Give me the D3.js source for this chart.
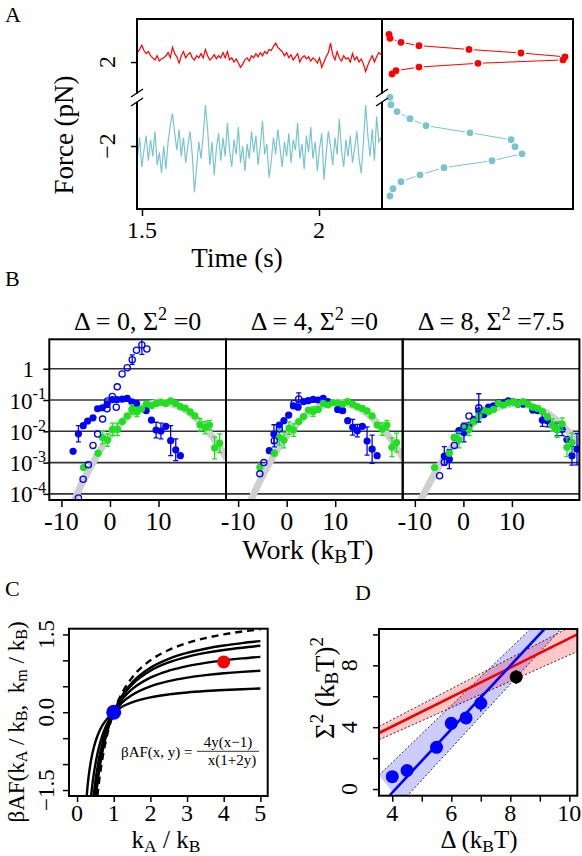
<!DOCTYPE html>
<html>
<head>
<meta charset="utf-8">
<script src="https://d3js.org/d3.v7.min.js"></script>
<style>
  body { margin: 0; background: #fff; }
  svg text { font-family: "Liberation Serif", "DejaVu Serif", serif; fill: #000; white-space: pre; }
</style>
</head>
<body>
<svg width="582" height="856"></svg>
<script>
// ---------------- panel A: force traces ----------------
var traceStart = 1.487, traceStep = 0.0062;
var redTrace = [
  2.45, 2.6, 2.8, 2.55, 2.4, 2.5, 2.3, 2.2, 2.1, 2.3,
  2.05, 2.15, 2.2, 2.3, 2.45, 2.2, 2.7, 2.4, 2.25, 1.95,
  2.3, 2.5, 2.2, 2.35, 2.45, 2.2, 2.1, 2.3, 2.2, 2.4,
  2.2, 2.6, 2.3, 2.1, 2.2, 2.35, 2.15, 2.3, 2.2, 2.45,
  2.2, 2.5, 2.1, 2.2, 2.0, 2.15, 1.95, 1.75, 1.9, 2.1,
  2.2, 2.05, 2.3, 2.2, 2.4, 2.25, 2.45, 2.3, 2.5, 2.4,
  2.6, 2.55, 2.75, 2.9, 2.7, 2.6, 2.5, 2.3, 2.45, 2.2,
  2.35, 2.1, 2.25, 2.4, 2.0, 2.2, 2.3, 2.15, 2.25, 2.05,
  2.2, 2.1, 1.95, 2.2, 1.75, 2.0, 2.25, 2.45, 2.9, 2.35,
  2.1, 2.5, 2.2, 2.05, 2.3, 2.15, 2.2, 2.0, 2.4, 2.1,
  2.25, 2.0, 2.15, 1.9, 1.55, 1.85, 2.1, 2.3, 2.0, 2.25, 2.45, 2.35
];
var cyanTrace = [
  -2.6, -1.6, -3.0, -2.2, -1.5, -2.7, -1.7, -2.5, -1.3, -2.9,
  -2.3, -3.3, -2.0, -3.1, -1.8, -1.0, -0.45, -1.4, -2.2, -1.2,
  -2.5, -1.6, -2.8, -2.0, -1.3, -2.4, -4.2, -3.0, -1.8, -2.6,
  -1.5, -0.05, -1.2, -2.9, -1.8, -3.4, -2.1, -1.4, -2.7, -1.6,
  -2.5, -0.9, -2.2, -3.0, -1.7, -2.4, -1.1, -2.8, -2.0, -3.2,
  -1.9, -2.6, -1.3, -2.3, -1.5, -2.9, -2.0, -0.8, -2.4, -1.9,
  -3.5, -2.7, -1.6, -2.4, -1.2, -2.1, -3.0, -1.8, -2.5, -1.4,
  -2.8, -1.7, -2.2, -0.9, -2.6, -1.9, -3.1, -1.5, -2.3, -1.1,
  -2.6, -1.8, -3.2, -2.1, -1.4, -3.6, -2.4, -1.3, -2.0, -2.9,
  -1.6, -2.4, -0.7, -2.2, -3.0, -1.7, -2.5, -1.5, -2.8, -2.1,
  -1.3, -2.6, -3.3, -1.8, -0.05, -1.5, -2.5, -1.2, -2.7, -0.6, -1.8, -1.6
];
// histograms (force bin, count)
var redBins = [3.32, 3.13, 2.94, 2.78, 2.60, 2.43, 2.25, 2.10, 1.94, 1.76, 1.59, 1.43];
var redCounts = [6, 7, 18, 36, 86, 138, 182, 180, 95, 36, 13, 9];
var cyanBins = [0.32, -0.03, -0.36, -0.70, -1.03, -1.37, -1.70, -2.03, -2.37, -2.70, -3.03, -3.37, -3.70, -4.03, -4.38];
var cyanCounts = [7, 8, 14, 27, 43, 87, 128, 132, 139, 109, 61, 37, 18, 10, 7];
var forceTicks = [2, -2], timeTicks = [1.5, 2];

// ---------------- panel B: work distributions [W, log10 P, err] ----------------
var bTitles = [["0", "0"], ["4", "0"], ["8", "7.5"]];
var blueFilled0 = [[-7.6,-2.64,0],[-6.5,-2.08,0.26],[-5.5,-1.82,0],[-4.6,-1.67,0],[-3.5,-1.57,0],[-2.55,-1.28,0],
  [-1.58,-1.25,0],[-0.6,-1.14,0],[0.47,-0.99,0],[1.44,-0.99,0],[2.5,-0.97,0],[3.55,-0.95,0],[4.5,-1.06,0],
  [5.46,-1.11,0],[7.45,-1.34,0],[8.54,-1.64,0],[9.5,-1.96,0.25],[10.5,-1.99,0.25],[11.5,-1.84,0],
  [12.5,-2.3,0.48],[13.55,-2.59,0.35],[14.5,-2.78,0]];
var blueOpen0 = [[-6.5,-4.13,0],[-5.54,-3.53,0],[-4.46,-3.07,0],[-3.5,-2.45,0],[-2.55,-2.09,0],[-1.52,-1.61,0],
  [-0.6,-1.28,0],[-0.5,-1.03,0],[0.47,-0.89,0],[1.3,-1.23,0],[1.5,-0.58,0],[2.5,-0.17,0],[3.55,0.03,0],
  [4.58,0.29,0.15],[5.46,0.59,0],[6.57,0.76,0.3],[7.6,0.63,0]];
var green0 = [[-5.48,-3.16,0],[-2.46,-2.70,0],[-1.52,-2.20,0.2],[-0.49,-2.28,0.2],[0.53,-1.94,0.2],[1.56,-1.94,0.2],
  [2.53,-1.69,0],[3.55,-1.51,0],[4.5,-1.30,0.15],[5.54,-1.38,0.15],[6.5,-1.29,0],[7.5,-1.12,0],[8.54,-1.18,0],
  [9.57,-1.11,0],[10.5,-1.07,0],[11.5,-1.11,0],[12.5,-1.03,0],[13.55,-1.11,0],[14.5,-1.21,0],[15.5,-1.26,0],
  [16.55,-1.38,0],[17.5,-1.51,0],[18.54,-1.79,0.2],[19.57,-1.88,0.2],[20.5,-1.80,0.15],[21.56,-2.53,0.35],
  [22.6,-2.38,0.3]];
var blueFilled4 = [[-3.58,-2.62,0],[-2.63,-2.09,0.3],[-1.51,-1.80,0],[-0.56,-1.66,0],[0.41,-1.48,0],[1.39,-1.19,0],
  [2.34,-1.23,0],[3.46,-1.05,0],[4.41,-1.02,0],[5.45,-0.98,0],[6.48,-1.0,0],[7.52,-0.95,0],[8.49,-1.05,0],
  [10.5,-1.30,0],[11.53,-1.34,0],[12.57,-1.66,0],[13.6,-1.87,0.25],[14.55,-1.98,0.2],[15.59,-1.84,0],
  [16.56,-2.31,0.45],[17.6,-2.57,0.45],[18.63,-2.78,0]];
var blueOpen4 = [[-5.53,-3.36,0],[-4.7,-3.0,0],[-2.55,-2.30,0.2],[-1.51,-1.93,0],[1.51,-1.11,0],[2.48,-0.97,0.2]];
var green4 = [[-5.53,-3.15,0],[-2.55,-2.70,0],[-1.51,-2.19,0.25],[-0.56,-2.28,0.25],[0.48,-1.90,0.2],[1.45,-1.96,0.2],
  [2.48,-1.69,0],[3.46,-1.53,0],[4.49,-1.32,0],[5.45,-1.37,0.15],[6.48,-1.30,0],[7.52,-1.11,0],[8.49,-1.16,0],
  [9.52,-1.09,0],[10.5,-1.09,0],[11.53,-1.13,0],[12.57,-1.05,0],[13.6,-1.13,0],[14.55,-1.21,0],[15.59,-1.27,0],
  [16.56,-1.35,0],[17.6,-1.51,0],[18.63,-1.80,0],[19.67,-1.93,0.2],[20.64,-1.80,0.15],[21.68,-2.51,0.3],
  [22.63,-2.36,0.3]];
var blueFilled8 = [[-3.93,-2.79,0.3],[-2.9,-2.89,0.3],[-1.86,-2.19,0],[-0.91,-1.98,0],[0.12,-2.04,0.3],[1.16,-1.80,0],
  [2.13,-1.62,0],[3.17,-1.35,0],[4.2,-1.46,0],[5.18,-1.23,0],[6.21,-1.19,0],[7.25,-1.09,0],[8.2,-1.09,0],
  [9.23,-1.03,0],[10.2,-1.05,0],[11.24,-1.13,0],[12.28,-1.13,0],[14.29,-1.32,0],[15.32,-1.34,0],
  [16.27,-1.64,0.2],[17.31,-1.66,0.2],[18.34,-1.80,0],[19.32,-1.94,0.2],[20.35,-1.94,0.2],[21.33,-2.26,0],
  [22.36,-2.78,0.3],[23.4,-2.57,0.5]];
var blueOpen8 = [[-4.9,-3.42,0],[-3.93,-2.99,0],[-1.86,-2.45,0],[0.12,-1.85,0],[1.16,-1.51,0],[3.17,-1.25,0.45]];
var green8 = [[-5.94,-3.16,0],[-2.9,-2.70,0],[-1.86,-2.19,0],[-0.91,-2.28,0.25],[0.12,-1.87,0],[1.16,-1.94,0.2],
  [2.13,-1.69,0],[3.17,-1.51,0.2],[4.2,-1.32,0],[5.18,-1.37,0],[6.21,-1.30,0],[7.25,-1.11,0],[8.2,-1.16,0],
  [9.23,-1.09,0],[10.27,-1.05,0],[11.24,-1.13,0],[12.28,-1.05,0],[13.31,-1.13,0],[14.29,-1.23,0],[15.32,-1.27,0],
  [16.27,-1.37,0],[17.31,-1.55,0],[18.34,-1.80,0.2],[19.32,-1.94,0.25],[20.35,-1.77,0.2],[21.33,-2.51,0.3],
  [22.36,-2.36,0.3]];
// gaussian guide curves [W, log10 P]
var grayNarrow = [[-9,-4.80],[-6,-3.74],[-3,-2.86],[0,-2.15],[3,-1.62],[6,-1.27],[10.5,-1.07],[15,-1.27],[18,-1.62],[21,-2.15],[24,-2.86]];
var grayWide = [[-10,-4.56],[-6,-3.37],[-2,-2.44],[3,-1.62],[7,-1.245],[11,-1.12],[15,-1.245],[19,-1.62],[23,-2.24],[24,-2.44]];
var workTicks = [-10, 0, 10];
var probTicks = [0, -1, -2, -3, -4];

// ---------------- panel C: beta*A*F curves ----------------
var cX = [0.25, 0.3, 0.35, 0.4, 0.45, 0.5, 0.55, 0.6, 0.7, 0.8, 1, 1.25, 1.5, 2, 2.5, 3, 3.5, 4, 4.5, 5];
var cCurveY02 = [-1.714,-1.333,-1.061,-0.857,-0.698,-0.571,-0.468,-0.381,-0.245,-0.143,0,0.114,0.190,0.286,0.343,0.381,0.408,0.429,0.444,0.457];
var cCurveY05 = [-3,-2.333,-1.857,-1.5,-1.222,-1,-0.818,-0.667,-0.429,-0.25,0,0.2,0.333,0.5,0.6,0.667,0.714,0.75,0.778,0.8];
var cCurveY1 = [-4,-3.111,-2.476,-2,-1.630,-1.333,-1.091,-0.889,-0.571,-0.333,0,0.267,0.444,0.667,0.8,0.889,0.952,1.0,1.037,1.067];
var cCurveY2 = [-4.8,-3.733,-2.971,-2.4,-1.956,-1.6,-1.309,-1.067,-0.686,-0.4,0,0.32,0.533,0.8,0.96,1.067,1.143,1.2,1.244,1.28];
var cCurveY3 = [-5.143,-4,-3.184,-2.571,-2.095,-1.714,-1.403,-1.143,-0.735,-0.429,0,0.343,0.571,0.857,1.029,1.143,1.224,1.286,1.333,1.371];
var cCurveInf = [-6,-4.667,-3.714,-3,-2.444,-2,-1.636,-1.333,-0.857,-0.5,0,0.4,0.667,1.0,1.2,1.333,1.429,1.5,1.556,1.6];
var cBluePoint = [1, 0], cRedPoint = [4, 0.97];
var cXTicks = [0, 1, 2, 3, 4, 5];
var cYTicks = [-1.5, -1, -0.5, 0, 0.5, 1, 1.5];
var cYLabels = {"-1.5": "\u22121.5", "0": "0.0", "1.5": "1.5"};

// ---------------- panel D: Sigma^2 vs Delta ----------------
var dDelta = [4, 4.5, 5.5, 6, 6.5, 7];
var dSigma2 = [0.8, 1.2, 2.7, 4.25, 4.6, 5.55];
var dErr = [0.15, 0.15, 0.15, 0.2, 0.2, 0.55];
var dBlack = [8.2, 7.25, 0.45];
var dRedFit = [[3.55, 3.62], [10.27, 10.0]];
var dRedUpper = [[3.55, 4.05], [10.27, 10.72]];
var dRedLower = [[3.55, 3.18], [10.27, 8.9]];
var dBlueFit = [[3.92, -0.39], [9.3, 10.64]];
var dBlueUpper = [[3.55, 0.9], [9.0, 10.93]];
var dBlueLower = [[4.3, -0.87], [10.0, 10.93]];
var dXTicks = [4, 5, 6, 7, 8, 9, 10], dXLabels = [4, 6, 8, 10];
var dYTicks = [0, 2, 4, 6, 8, 10], dYLabels = [0, 4, 8];

var BLUE = "#0000ff", GREEN = "#1ee01e", RED = "#ff0000", CYAN = "#7ac5cd";
var FONT = '"Liberation Serif", "DejaVu Serif", serif';

var svg = d3.select("svg");

// text with sub/superscript parts
function rich(x, y, size, anchor, parts, rotate) {
  var t = svg.append("text")
    .attr("transform", "translate(" + x + "," + y + ")" + (rotate ? " rotate(-90)" : ""))
    .attr("text-anchor", anchor)
    .style("font-family", FONT)
    .style("font-size", size + "px");
  var shift = 0;
  parts.forEach(function (p) {
    if (typeof p === "string") p = {t: p};
    var target = p.sub ? size * 0.15 : p.sup ? -size * 0.4 : 0;
    t.append("tspan")
      .attr("dy", target - shift)
      .style("font-size", (p.sub || p.sup ? size * 0.7 : size) + "px")
      .text(p.t);
    shift = target;
  });
  return t;
}

function clip(id, x0, y0, x1, y1) {
  svg.append("clipPath").attr("id", id).append("rect")
    .attr("x", x0).attr("y", y0).attr("width", x1 - x0).attr("height", y1 - y0);
  return svg.append("g").attr("clip-path", "url(#" + id + ")");
}

function box(x0, y0, x1, y1) {
  svg.append("rect").attr("x", x0).attr("y", y0).attr("width", x1 - x0).attr("height", y1 - y0)
    .attr("fill", "none").attr("stroke", "#000").attr("stroke-width", 2);
}

function axisAt(axis, tx, ty) {
  svg.append("g").attr("transform", "translate(" + tx + "," + ty + ")")
    .call(axis.tickFormat(""))
    .call(function (g) { g.select(".domain").remove(); })
    .selectAll("line").attr("stroke-width", 1.5);
}

// =============== A ===============
var xTime = d3.scaleLinear().domain([1.4859, 2.178]).range([137, 382]);
var yForce = d3.scaleLinear().domain([-5, 4.05]).range([209, 19]);
var xCount = d3.scaleLinear().domain([0, 190]).range([383, 573]);

var aLeft = clip("clipA", 137, 19, 382, 209);
var traceLine = d3.line()
  .x(function (d, i) { return xTime(traceStart + i * traceStep); })
  .y(function (d) { return yForce(d); });
aLeft.append("path").datum(redTrace).attr("d", traceLine)
  .attr("fill", "none").attr("stroke", RED).attr("stroke-width", 1.2);
aLeft.append("path").datum(cyanTrace).attr("d", traceLine)
  .attr("fill", "none").attr("stroke", CYAN).attr("stroke-width", 1.2);

function gapped(g, pts, gap, color) {
  for (var i = 1; i < pts.length; i++) {
    var a = pts[i - 1], b = pts[i], dx = b[0] - a[0], dy = b[1] - a[1];
    var len = Math.sqrt(dx * dx + dy * dy);
    if (len <= 2 * gap) continue;
    var ux = dx / len, uy = dy / len;
    g.append("line")
      .attr("x1", a[0] + ux * gap).attr("y1", a[1] + uy * gap)
      .attr("x2", b[0] - ux * gap).attr("y2", b[1] - uy * gap)
      .attr("stroke", color).attr("stroke-width", 1);
  }
}
var aRight = svg.append("g");
[[redBins, redCounts, RED], [cyanBins, cyanCounts, CYAN]].forEach(function (h) {
  var pts = h[0].map(function (b, i) { return [xCount(h[1][i]), yForce(b)]; });
  gapped(aRight, pts, 5, h[2]);
  aRight.selectAll(null).data(pts).enter().append("circle")
    .attr("cx", function (d) { return d[0]; }).attr("cy", function (d) { return d[1]; })
    .attr("r", 3.4).attr("fill", h[2]);
});

box(137, 19, 573, 209);
svg.append("line").attr("x1", 382).attr("x2", 382).attr("y1", 19).attr("y2", 209)
  .attr("stroke", "#000").attr("stroke-width", 2);
axisAt(d3.axisLeft(yForce).tickValues(forceTicks).tickSize(6), 137, 0);
axisAt(d3.axisBottom(xTime).tickValues(timeTicks).tickSize(7), 0, 209);

// axis breaks
[137, 382].forEach(function (bx) {
  svg.append("rect").attr("x", bx - 3).attr("y", 94).attr("width", 6).attr("height", 8).attr("fill", "#fff");
  [0, 9].forEach(function (off) {
    svg.append("line").attr("x1", bx - 6).attr("y1", 97 + off).attr("x2", bx + 6).attr("y2", 89 + off)
      .attr("stroke", "#000").attr("stroke-width", 1.4);
  });
});

forceTicks.forEach(function (v) {
  rich(115, yForce(v), 24, "middle", [v < 0 ? "\u2212" + Math.abs(v) : String(v)], true);
});
timeTicks.forEach(function (v) { rich(xTime(v), 238, 24, "middle", [String(v)]); });
rich(73, 135, 27, "middle", ["Force (pN)"], true);
rich(237, 267, 27, "middle", ["Time (s)"]);
rich(5, 22, 22, "start", ["A"]);

// =============== B ===============
var yProb = d3.scaleLog().domain([Math.pow(10, -4.195), Math.pow(10, 0.94)]).range([500, 339.3]);
var bData = [
  [blueFilled0, blueOpen0, green0, grayNarrow],
  [blueFilled4, blueOpen4, green4, grayNarrow],
  [blueFilled8, blueOpen8, green8, grayWide]
];
var bWidth = 176.7;
probTicks.forEach(function (k) {
  svg.append("line").attr("x1", 49.3).attr("x2", 49.3 + 3 * bWidth)
    .attr("y1", yProb(Math.pow(10, k))).attr("y2", yProb(Math.pow(10, k)))
    .attr("stroke", "#333").attr("stroke-width", 1.6);
});

bData.forEach(function (pd, i) {
  var x0 = 49.3 + i * bWidth, x1 = x0 + bWidth;
  var xW = d3.scaleLinear().domain([-12.5, 23.9]).range([x0, x1]);
  var g = clip("clipB" + i, x0, 339.3, x1, 500);
  var py = function (d) { return yProb(Math.pow(10, d[1])); };

  g.append("path").datum(pd[3])
    .attr("d", d3.line().curve(d3.curveNatural)
      .x(function (d) { return xW(d[0]); }).y(py))
    .attr("fill", "none").attr("stroke", "#cfcfcf").attr("stroke-width", 7);

  function series(data, color, open) {
    var withErr = data.filter(function (d) { return d[2] > 0; });
    var eg = g.append("g").attr("stroke", color).attr("stroke-width", 1.3);
    withErr.forEach(function (d) {
      var cx = xW(d[0]), ya = yProb(Math.pow(10, d[1] - d[2])), yb = yProb(Math.pow(10, d[1] + d[2]));
      eg.append("line").attr("x1", cx).attr("x2", cx).attr("y1", ya).attr("y2", yb);
      eg.append("line").attr("x1", cx - 2.5).attr("x2", cx + 2.5).attr("y1", ya).attr("y2", ya);
      eg.append("line").attr("x1", cx - 2.5).attr("x2", cx + 2.5).attr("y1", yb).attr("y2", yb);
    });
    g.selectAll(null).data(data).enter().append("circle")
      .attr("cx", function (d) { return xW(d[0]); }).attr("cy", py)
      .attr("r", open ? 3.1 : 3.6)
      .attr("fill", open ? "none" : color)
      .attr("stroke", open ? color : "none").attr("stroke-width", 1.3);
  }
  series(pd[0], BLUE, false);
  series(pd[2], GREEN, false);
  series(pd[1], BLUE, true);

  box(x0, 339.3, x1, 500);
  axisAt(d3.axisBottom(xW).tickValues(workTicks).tickSize(6), 0, 501);
  workTicks.forEach(function (v) { rich(xW(v), 530, 26, "middle", [String(v)]); });
  rich((x0 + x1) / 2, 330, 26, "middle",
    ["\u0394 = " + bTitles[i][0] + ", \u03a3", {t: "2", sup: true}, " =" + bTitles[i][1]]);
});
axisAt(d3.axisLeft(yProb).tickValues(probTicks.map(function (k) { return Math.pow(10, k); })).tickSize(6), 49.3, 0);
probTicks.forEach(function (k) {
  var y = yProb(Math.pow(10, k));
  if (k === 0) rich(34, y + 8, 23, "end", ["1"]);
  else rich(46, y + 8.5, 23, "end", ["10", {t: "-" + Math.abs(k), sup: true}]);
});
rich(308, 559, 28, "middle", ["Work (k", {t: "B", sub: true}, "T)"]);
rich(5, 286, 22, "start", ["B"]);

// =============== C ===============
var xC = d3.scaleLinear().domain([-0.22, 5.2]).range([69, 267.7]);
var yC = d3.scaleLinear().domain([-1.615, 1.61]).range([796, 628.7]);
var gC = clip("clipC", 69, 628.7, 267.7, 796);
var cLine = d3.line().curve(d3.curveMonotoneX)
  .x(function (d, i) { return xC(cX[i]); }).y(function (d) { return yC(d); });
[cCurveY02, cCurveY05, cCurveY1, cCurveY2, cCurveY3].forEach(function (c) {
  gC.append("path").datum(c).attr("d", cLine).attr("fill", "none").attr("stroke", "#000").attr("stroke-width", 2.4);
});
gC.append("path").datum(cCurveInf).attr("d", cLine).attr("fill", "none").attr("stroke", "#000")
  .attr("stroke-width", 2.4).attr("stroke-dasharray", "7,5");
gC.append("circle").attr("cx", xC(cRedPoint[0])).attr("cy", yC(cRedPoint[1])).attr("r", 6.5).attr("fill", RED);
gC.append("circle").attr("cx", xC(cBluePoint[0])).attr("cy", yC(cBluePoint[1])).attr("r", 7.5).attr("fill", BLUE);
box(69, 628.7, 267.7, 796);
axisAt(d3.axisBottom(xC).tickValues(cXTicks).tickSize(6), 0, 796);
axisAt(d3.axisLeft(yC).tickValues(cYTicks).tickSize(6), 69, 0);
cXTicks.forEach(function (v) { rich(xC(v), 820.5, 24, "middle", [String(v)]); });
cYTicks.forEach(function (v) {
  if (cYLabels[String(v)]) rich(54, yC(v), 23, "middle", [cYLabels[String(v)]], true);
});
// formula
rich(121, 757, 15, "start", ["\u03b2AF(x, y) ="]);
svg.append("line").attr("x1", 197).attr("x2", 259).attr("y1", 751.3).attr("y2", 751.3)
  .attr("stroke", "#000").attr("stroke-width", 0.8);
rich(228, 747, 15, "middle", ["4y(x\u22121)"]);
rich(232, 765, 15, "middle", ["x(1+2y)"]);
rich(24, 722, 23, "middle",
  ["\u03b2AF(k", {t: "A", sub: true}, " / k", {t: "B", sub: true}, ",  k", {t: "m", sub: true}, " / k", {t: "B", sub: true}, ")"], true);
rich(166, 848, 25, "middle", ["k", {t: "A", sub: true}, " / k", {t: "B", sub: true}]);
rich(5, 596, 22, "start", ["C"]);

// =============== D ===============
var xD = d3.scaleLinear().domain([3.55, 10.27]).range([379, 577.3]);
var yD = d3.scaleLinear().domain([-0.43, 10.35]).range([795.7, 629]);
var gD = clip("clipD", 379, 629, 577.3, 795.7);
var dLine = d3.line().x(function (d) { return xD(d[0]); }).y(function (d) { return yD(d[1]); });
function band(upper, lower, fill) {
  gD.append("path").datum(upper.concat(lower.slice().reverse()))
    .attr("d", dLine).attr("fill", fill).attr("stroke", "none");
  [upper, lower].forEach(function (edge) {
    gD.append("path").datum(edge).attr("d", dLine)
      .attr("fill", "none").attr("stroke", "#000").attr("stroke-width", 0.8).attr("stroke-dasharray", "2,2");
  });
}
band(dBlueUpper, dBlueLower, "rgba(0,0,255,0.2)");
band(dRedUpper, dRedLower, "rgba(255,0,0,0.22)");
gD.append("path").datum(dRedFit).attr("d", dLine).attr("stroke", "#ee0000").attr("stroke-width", 2.6).attr("fill", "none");
gD.append("path").datum(dBlueFit).attr("d", dLine).attr("stroke", BLUE).attr("stroke-width", 2.6).attr("fill", "none");
dDelta.forEach(function (x, i) {
  gD.append("line").attr("x1", xD(x)).attr("x2", xD(x))
    .attr("y1", yD(dSigma2[i] - dErr[i])).attr("y2", yD(dSigma2[i] + dErr[i]))
    .attr("stroke", BLUE).attr("stroke-width", 1.5);
});
gD.selectAll(null).data(dDelta).enter().append("circle")
  .attr("cx", function (d) { return xD(d); }).attr("cy", function (d, i) { return yD(dSigma2[i]); })
  .attr("r", 6.5).attr("fill", BLUE);
gD.append("line").attr("x1", xD(dBlack[0])).attr("x2", xD(dBlack[0]))
  .attr("y1", yD(dBlack[1] - dBlack[2])).attr("y2", yD(dBlack[1] + dBlack[2]))
  .attr("stroke", "#000").attr("stroke-width", 1.5);
gD.append("circle").attr("cx", xD(dBlack[0])).attr("cy", yD(dBlack[1])).attr("r", 6.5).attr("fill", "#000");
box(379, 629, 577.3, 795.7);
axisAt(d3.axisBottom(xD).tickValues(dXTicks).tickSize(6), 0, 795.7);
axisAt(d3.axisLeft(yD).tickValues(dYTicks).tickSize(6), 379, 0);
dXLabels.forEach(function (v) { rich(xD(v), 820.5, 24, "middle", [String(v)]); });
dYLabels.forEach(function (v) { rich(357, yD(v), 24, "middle", [String(v)], true); });
rich(334, 688, 27, "middle", ["\u03a3", {t: "2", sup: true}, " (k", {t: "B", sub: true}, "T)", {t: "2", sup: true}], true);
rich(479, 848, 25, "middle", ["\u0394 (k", {t: "B", sub: true}, "T)"]);
rich(355, 600, 22, "start", ["D"]);
</script>
</body>
</html>
